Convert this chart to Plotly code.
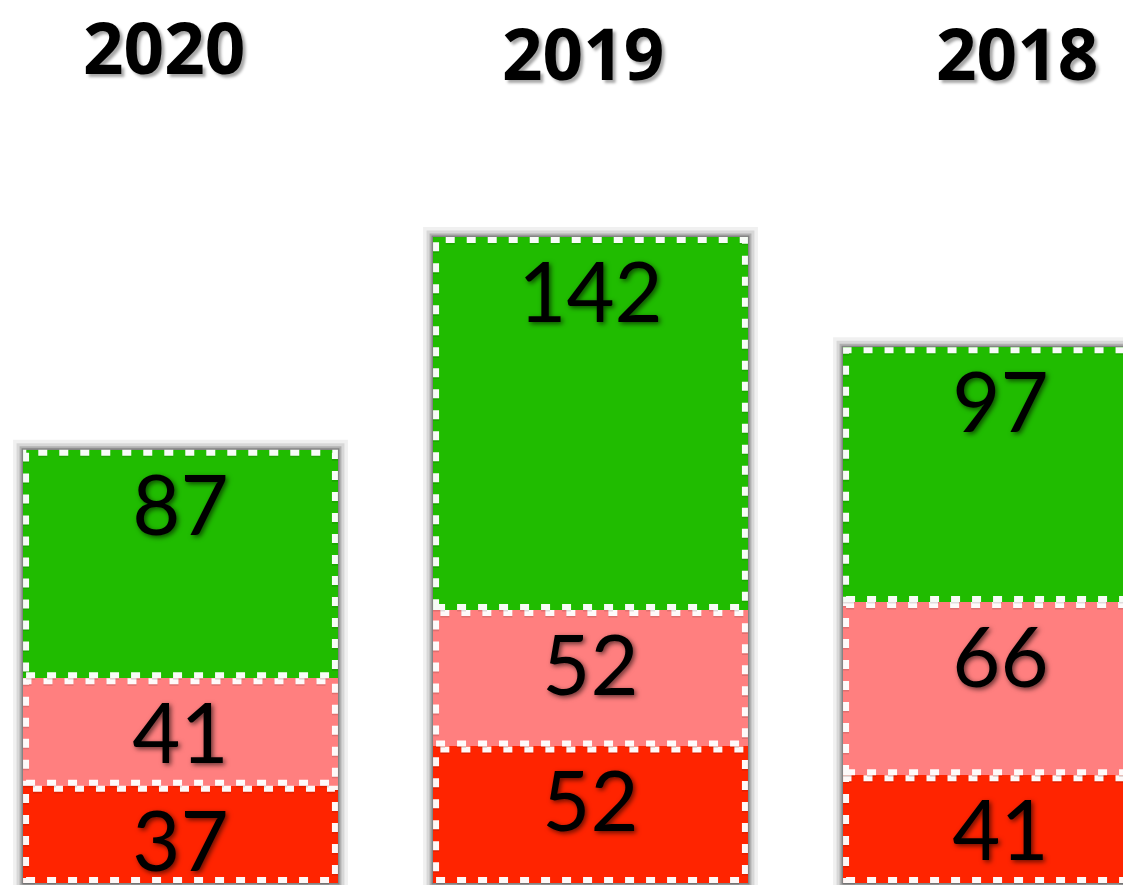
import plotly.graph_objects as go

# ---- data ----
years = ["2020", "2019", "2018"]
red_vals = [37, 52, 41]
pink_vals = [41, 52, 66]
green_vals = [87, 142, 97]

series_names = ["red", "pink", "green"]
series_values = [red_vals, pink_vals, green_vals]
series_colors = ["#FF2400", "#FF7F7F", "#20BC00"]

# title positions (paper coords, layout only)
title_x = [163.5 / 1123, 583 / 1123, 1017 / 1123]
title_y = [1 - 47 / 885, 1 - 52 / 885, 1 - 52 / 885]

W, H = 1123, 885
BAR_W = 0.768
PX_PER_X = 410.0
PX_PER_Y = 2.626
BASELINE_PX = 883
xs = list(range(len(years)))

fig = go.Figure()
for name, vals, col in zip(series_names, series_values, series_colors):
    fig.add_trace(go.Bar(
        x=xs, y=vals, name=name, width=BAR_W,
        marker=dict(color=col, line=dict(width=0)),
        text=[str(v) for v in vals],
        textposition="inside", insidetextanchor="end", textangle=0,
        textfont=dict(family="Lato", size=83, color="black",
                      shadow="2px 2px 5px rgba(0,0,0,0.6)"),
        hoverinfo="skip", showlegend=False,
    ))

# dashed white borders (inset inside each segment) & soft bar shadows, derived from data
ix = 3 / PX_PER_X
iy = 3 / PX_PER_Y
shapes = []
for j in xs:
    total = sum(v[j] for v in series_values)
    for wdt, alpha in [(20, 0.06), (13, 0.1), (7, 0.18), (3, 0.25)]:
        shapes.append(dict(type="rect", xref="x", yref="y", layer="below",
                           x0=j - BAR_W / 2, x1=j + BAR_W / 2, y0=0, y1=total,
                           line=dict(color=f"rgba(0,0,0,{alpha})", width=wdt),
                           fillcolor="rgba(0,0,0,0)"))
    base = 0
    for vals in series_values:
        y0, y1 = base, base + vals[j]
        # faint grey shadow of the dashes
        shapes.append(dict(type="rect", xref="x", yref="y", layer="above",
                           x0=j - BAR_W / 2 + ix, x1=j + BAR_W / 2 - ix,
                           y0=y0 + iy - 0.6, y1=y1 - iy - 0.6,
                           line=dict(color="rgba(0,0,0,0.12)", width=6, dash="9px,12px"),
                           fillcolor="rgba(0,0,0,0)"))
        shapes.append(dict(type="rect", xref="x", yref="y", layer="above",
                           x0=j - BAR_W / 2 + ix, x1=j + BAR_W / 2 - ix,
                           y0=y0 + iy, y1=y1 - iy,
                           line=dict(color="rgba(255,255,255,0.97)", width=6, dash="9px,12px"),
                           fillcolor="rgba(0,0,0,0)"))
        base = y1

annotations = []
for t, tx, ty in zip(years, title_x, title_y):
    annotations.append(dict(
        text=t, x=tx, y=ty, xref="paper", yref="paper",
        xanchor="center", yanchor="middle", showarrow=False,
        font=dict(family="Open Sans", size=71, color="black", weight="bold",
                  shadow="3px 3px 3px rgba(0,0,0,0.35)"),
    ))

x_left = -180.5 / PX_PER_X
x_right = x_left + W / PX_PER_X

fig.update_layout(
    barmode="stack",
    width=W, height=H,
    margin=dict(l=0, r=0, t=0, b=0),
    paper_bgcolor="white", plot_bgcolor="white",
    xaxis=dict(range=[x_left, x_right], visible=False, fixedrange=True),
    yaxis=dict(range=[-(H - BASELINE_PX) / PX_PER_Y, BASELINE_PX / PX_PER_Y],
               visible=False, fixedrange=True),
    uniformtext=dict(minsize=83, mode="show"),
    shapes=shapes,
    annotations=annotations,
    showlegend=False,
)

fig.write_html("out.html", config={"displayModeBar": False},
               post_script="document.body.style.margin='0';document.body.style.overflow='hidden';")
